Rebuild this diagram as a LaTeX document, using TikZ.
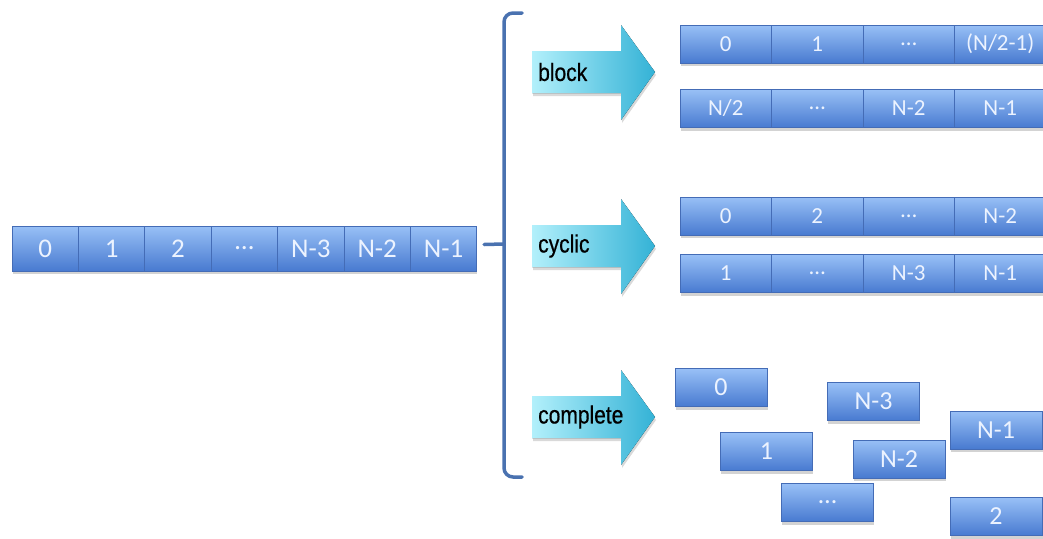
\documentclass[tikz,border=0pt]{standalone}
\usepackage{fontspec}
\newfontfamily\cellfont{Carlito}
\newfontfamily\labfont[FakeStretch=0.84,FakeBold=0.6]{Liberation Sans}
\usepackage{tikz}
\usetikzlibrary{
  calc,
  positioning,
  shadows
}
\definecolor{celltop}{RGB}{152,192,246}
\definecolor{cellbot}{RGB}{72,122,208}
\definecolor{cellline}{RGB}{68,108,182}
\definecolor{celltext}{RGB}{236,243,255}
\definecolor{arrowlight}{RGB}{178,240,251}
\definecolor{arrowdark}{RGB}{52,178,214}
\definecolor{bracecol}{RGB}{74,114,176}

\tikzset{
  cell/.style={draw=cellline, line width=0.7pt, top color=celltop, bottom color=cellbot,
    text=celltext, inner sep=0pt, font=\cellfont\fontsize{23}{26}\selectfont,
    drop shadow={shadow xshift=0.5pt, shadow yshift=-3pt, opacity=0.35}},
  bigcell/.style={cell, minimum width=66.4pt, minimum height=45pt,
    font=\cellfont\fontsize{27}{30}\selectfont},
  rowcell/.style={cell, minimum width=91.5pt, minimum height=38pt},
  freecell/.style={cell, minimum width=92pt, minimum height=38pt,
    font=\cellfont\fontsize{26}{28}\selectfont},
  arrowlab/.style={anchor=west, inner sep=0pt, text=black,
    font=\labfont\fontsize{25}{28}\selectfont},
  brace/.style={draw=bracecol, line width=3.5pt, line cap=round, line join=round}
}

\begin{document}
\begin{tikzpicture}[x=1pt, y=-1pt]
  \useasboundingbox (0,0) rectangle (1043,538);
  % source array
  \foreach \lab [count=\i from 0] in {0,1,2,\dots,N-3,N-2,N-1}
    \node[bigcell] (l\i) at ({45.2+66.4*\i},248.5) {\lab};
  % brace
  \coordinate (bracetip) at ($(l6.east)+(7,-4)$);
  \draw[brace] (522,13) -- (513,13) to[out=180,in=90] (504,22) -- (504,468)
    to[out=-90,in=180] (513,477) -- (522,477);
  \draw[brace] (bracetip) -- (504,244);
  % arrows
  \foreach \y/\lab/\nm in {72/block/blk, 246/cyclic/cyc, 417/complete/cmp} {
    \fill[left color=arrowlight, right color=arrowdark,
      drop shadow={shadow xshift=1pt, shadow yshift=-3pt, opacity=0.3}]
      (532,{\y-21}) -- (621,{\y-21}) -- (621,{\y-47}) -- (655,\y)
      -- (621,{\y+48}) -- (621,{\y+21}) -- (532,{\y+21}) -- cycle;
    \node[arrowlab] (\nm) at (538,\y) {\lab};
  }
  % block
  \foreach \lab [count=\i from 0] in {0,1,\dots,(N/2-1)}
    \node[rowcell] (ba\i) at ({725.75+91.5*\i},44) {\lab};
  \foreach \lab [count=\i from 0] in {N/2,\dots,N-2,N-1}
    \node[rowcell] (bb\i) at ({725.75+91.5*\i},108.5) {\lab};
  % cyclic
  \foreach \lab [count=\i from 0] in {0,2,\dots,N-2}
    \node[rowcell] (ca\i) at ({725.75+91.5*\i},216) {\lab};
  \foreach \lab [count=\i from 0] in {1,\dots,N-3,N-1}
    \node[rowcell] (cb\i) at ({725.75+91.5*\i},273.5) {\lab};
  % complete
  \node[freecell] (f0) at (721,387.5) {0};
  \node[freecell] (fn3) at (873.5,401.5) {N-3};
  \node[freecell] (fn1) at (996,430) {N-1};
  \node[freecell] (f1) at (766.5,451.5) {1};
  \node[freecell] (fn2) at (899,459) {N-2};
  \node[freecell] (fdots) at (827.5,502.5) {\dots};
  \node[freecell] (f2) at (996,516.5) {2};
\end{tikzpicture}
\end{document}
